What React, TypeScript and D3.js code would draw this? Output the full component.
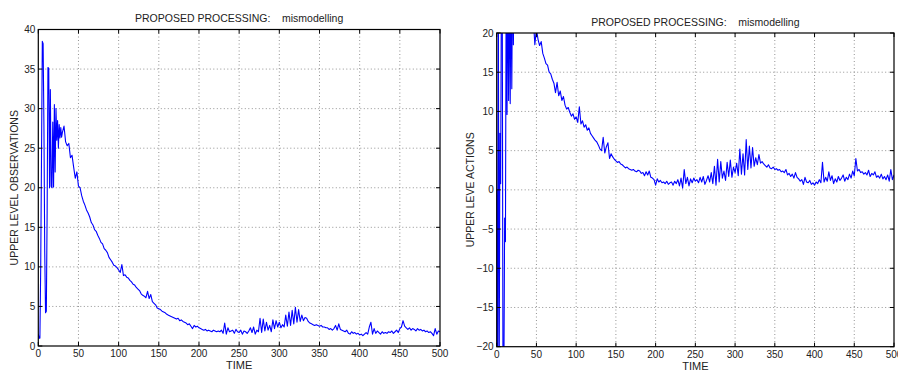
import React from "react";
import * as d3 from "d3";

// observations: t = 0..29 step 1, then t = 30..500 step 2
const obsEarly = [
  1.5, 1.0, 1.0, 10, 24, 38.5, 38.2, 28, 12, 4.2,
  4.4, 17, 35.2, 35.1, 20, 32.4, 20.2, 20, 28.3, 20.1,
  30.5, 22, 30, 26, 28.5, 25, 28, 26.3, 27.6, 26.4,
];
const obsLate = [
  27.0, 27.8, 25.8, 25.3, 25.6, 23.8, 24.1, 22.6, 21.2, 22.0,
  20.2, 20.0, 19.0, 18.3, 17.8, 17.2, 16.8, 16.3, 15.6, 15.3,
  14.7, 14.5, 14.0, 13.6, 13.1, 12.9, 12.3, 12.1, 11.8, 11.2,
  10.9, 10.6, 10.2, 10.1, 9.9, 9.6, 9.3, 10.3, 8.9, 9.0,
  8.7, 8.6, 8.3, 8.1, 7.8, 7.7, 7.4, 7.2, 7.0, 6.6,
  6.4, 6.3, 6.1, 6.9, 6.0, 6.5, 5.6, 5.4, 5.2, 4.8,
  4.7, 4.6, 4.4, 4.3, 4.2, 4.0, 3.9, 3.8, 3.7, 3.6,
  3.5, 3.4, 3.5, 3.2, 3.3, 3.1, 3.0, 2.9, 2.7, 2.8,
  2.5, 2.2, 2.6, 2.4, 2.5, 2.3, 2.2, 2.1, 2.0, 2.1,
  1.9, 2.0, 1.9, 1.8, 2.0, 1.9, 1.8, 1.9, 1.8, 2.0,
  1.6, 2.9, 1.5, 2.3, 1.8, 1.9, 2.0, 1.6, 2.1, 1.8,
  1.7, 2.0, 1.5, 1.9, 1.8, 1.6, 1.9, 2.3, 1.7, 2.4,
  1.5, 2.0, 1.8, 3.5, 1.7, 3.4, 1.9, 3.0, 2.0, 2.6,
  1.8, 3.3, 2.2, 3.2, 2.4, 3.0, 2.3, 2.7, 2.4, 3.9,
  2.5, 4.3, 2.6, 4.5, 2.8, 4.9, 3.0, 4.6, 3.1, 3.9,
  3.2, 3.6, 3.5, 3.1, 2.9, 2.8, 2.7, 2.6, 2.7, 2.6,
  2.5, 2.6, 2.4, 2.4, 2.3, 2.3, 2.1, 2.2, 2.0, 2.2,
  2.6, 2.0, 2.8, 2.1, 2.0, 1.9, 1.8, 2.0, 1.6, 1.5,
  1.8, 1.6, 1.7, 1.5, 1.6, 1.4, 1.5, 1.3, 1.5, 1.7,
  1.5, 2.4, 3.0, 1.5, 2.2, 1.6, 1.9, 1.7, 1.5, 1.8,
  1.6, 1.7, 1.6, 1.8, 1.7, 1.9, 1.6, 1.8, 2.0, 1.7,
  2.2, 2.4, 3.2, 2.5, 2.3, 2.1, 2.3, 2.0, 2.2, 2.1,
  1.9, 2.2, 2.0, 2.1, 1.9, 2.0, 1.8, 1.9, 1.7, 1.8,
  1.6, 1.3, 2.2, 1.5, 1.9, 1.8,
];

// actions: t = 0..29 step 1, then t = 30..500 step 2 (values beyond +-20 are clipped)
const actEarly = [
  0, -25, 30, -30, 7.2, 0.8, 30, 25, -30, -25,
  -3.6, -6.6, 30, 9.6, 30, 11.4, 30, 11.0, 28, 12.9,
  30, 18.5, 30, 24, 26, 25, 26, 25, 24, 25,
];
const actLate = [
  25, 24, 26, 25, 24, 23, 24, 22, 22, 18.5,
  20.5, 19.2, 18.4, 18.9, 17.4, 16.8, 16.1, 15.9, 15.0, 14.8,
  14.1, 13.6, 12.4, 13.7, 12.0, 12.6, 11.4, 11.9, 10.8, 10.3,
  10.5, 9.9, 9.4, 9.7, 9.0, 9.3, 8.6, 10.6, 8.4, 8.8,
  8.0, 8.3, 7.6, 7.9, 7.2, 6.9, 6.6, 6.3, 6.1, 5.7,
  5.2, 5.0, 6.7, 4.7, 5.5, 6.0, 4.0, 4.6, 4.2, 3.9,
  3.7, 3.5, 3.6, 3.3, 3.2, 3.0, 2.8, 2.9, 2.7, 2.6,
  2.5, 2.6, 2.4, 2.3, 2.5, 2.4, 2.1, 2.2, 1.8, 2.3,
  1.9, 2.4, 1.6, 1.5, 1.3, 0.6, 1.4, 1.0, 1.2, 0.9,
  1.0, 0.8, 1.1, 0.7, 0.9, 1.0, 0.6, 1.1, 0.8, 1.3,
  0.5, 1.5, 0.2, 2.6, 0.8, 1.6, 0.5, 1.4, 0.9, 1.5,
  1.1, 1.3, 0.9, 1.6, 1.0, 1.7, 0.7, 1.2, 1.8, 1.0,
  2.2, 0.8, 3.0, 0.6, 3.9, 1.0, 3.6, 1.5, 2.4, 1.2,
  3.5, 1.7, 3.8, 1.6, 2.9, 2.2, 3.4, 1.8, 5.2, 2.0,
  4.6, 1.9, 6.4, 2.6, 5.6, 2.8, 5.4, 3.0, 4.1, 3.2,
  4.5, 3.4, 3.6, 3.3, 3.1, 2.9, 3.2, 2.8, 2.7, 2.9,
  2.6, 2.7, 2.5, 2.6, 2.3, 2.4, 2.2, 2.6, 1.9, 2.1,
  1.7, 2.0, 1.5, 2.2, 1.6, 1.4, 1.1, 1.3, 0.7, 1.6,
  1.0, 0.9, 1.2, 0.7, 0.9, 0.6, 1.0, 0.8, 1.3, 0.9,
  3.5, 1.0, 1.6, 1.1, 2.3, 1.2, 1.8, 0.8, 1.4, 1.0,
  1.7, 1.2, 1.5, 1.9, 1.1, 1.6, 1.3, 2.0, 1.5, 2.4,
  1.8, 4.0, 2.4, 2.6, 2.2, 2.3, 2.0, 2.2, 1.9, 2.5,
  1.7, 2.1, 1.9, 2.3, 1.6, 1.8, 1.5, 2.0, 1.4, 1.7,
  1.3, 1.9, 1.1, 2.6, 1.3, 1.9,
];

const xTicks = [0, 50, 100, 150, 200, 250, 300, 350, 400, 450, 500];
const obsTicks = [0, 5, 10, 15, 20, 25, 30, 35, 40];
const actTicks = [-20, -15, -10, -5, 0, 5, 10, 15, 20];

const titleText = "PROPOSED PROCESSING:    mismodelling";

type Pt = [number, number];
const toSeries = (early: number[], late: number[]): Pt[] => [
  ...early.map((v, i) => [i, v] as Pt),
  ...late.map((v, i) => [30 + 2 * i, v] as Pt),
];

const obsData = toSeries(obsEarly, obsLate);
const actData = toSeries(actEarly, actLate);

const font = "'Liberation Sans', Arial, Helvetica, sans-serif";

type PanelProps = {
  id: string;
  data: Pt[];
  left: number;
  right: number;
  top: number;
  bottom: number;
  yDomain: [number, number];
  yTicks: number[];
  yLabel: string;
  yLabelX: number;
  titleY: number;
};

const Panel = (p: PanelProps) => {
  const x = d3.scaleLinear().domain([0, 500]).range([p.left, p.right]);
  const y = d3.scaleLinear().domain(p.yDomain).range([p.bottom, p.top]);
  const line = d3
    .line<Pt>()
    .x((d) => x(d[0]))
    .y((d) => y(d[1]));
  const tl = 4;
  const cx = (p.left + p.right) / 2;
  const cy = (p.top + p.bottom) / 2;

  return (
    <g>
      <defs>
        <clipPath id={p.id}>
          <rect x={p.left} y={p.top} width={p.right - p.left} height={p.bottom - p.top} />
        </clipPath>
      </defs>
      {/* grid */}
      <g stroke="#777" strokeWidth={0.8} strokeDasharray="1,2.5">
        {xTicks.slice(1, -1).map((t) => (
          <line key={"gx" + t} x1={x(t)} x2={x(t)} y1={p.top} y2={p.bottom} />
        ))}
        {p.yTicks.slice(1, -1).map((t) => (
          <line key={"gy" + t} x1={p.left} x2={p.right} y1={y(t)} y2={y(t)} />
        ))}
      </g>
      <path
        d={line(p.data) || ""}
        fill="none"
        stroke="#0000ff"
        strokeWidth={1.1}
        strokeLinejoin="round"
        clipPath={`url(#${p.id})`}
      />
      {/* box + ticks */}
      <rect
        x={p.left}
        y={p.top}
        width={p.right - p.left}
        height={p.bottom - p.top}
        fill="none"
        stroke="#000"
        strokeWidth={1.2}
      />
      <g stroke="#000" strokeWidth={1}>
        {xTicks.map((t) => (
          <g key={"tx" + t}>
            <line x1={x(t)} x2={x(t)} y1={p.bottom} y2={p.bottom - tl} />
            <line x1={x(t)} x2={x(t)} y1={p.top} y2={p.top + tl} />
          </g>
        ))}
        {p.yTicks.map((t) => (
          <g key={"ty" + t}>
            <line x1={p.left} x2={p.left + tl} y1={y(t)} y2={y(t)} />
            <line x1={p.right} x2={p.right - tl} y1={y(t)} y2={y(t)} />
          </g>
        ))}
      </g>
      <g fontFamily={font} fontSize={10} fill="#222">
        {xTicks.map((t) => (
          <text key={"lx" + t} x={x(t)} y={p.bottom + 11} textAnchor="middle">
            {t}
          </text>
        ))}
        {p.yTicks.map((t) => (
          <text key={"ly" + t} x={p.left - 3} y={y(t) + 3.5} textAnchor="end">
            {t < 0 ? "\u2212" + Math.abs(t) : t}
          </text>
        ))}
        <text x={cx} y={p.titleY} textAnchor="middle" fontSize={10.5} style={{ whiteSpace: "pre" }}>
          {titleText}
        </text>
        <text x={cx} y={p.bottom + 23} textAnchor="middle" fontSize={11}>
          TIME
        </text>
        <text
          transform={`translate(${p.yLabelX},${cy}) rotate(-90)`}
          textAnchor="middle"
          fontSize={10.5}
        >
          {p.yLabel}
        </text>
      </g>
    </g>
  );
};

export default function App() {
  return (
    <svg width={898} height={372} style={{ display: "block", position: "absolute", left: 0, top: 0 }}>
      <rect width={898} height={372} fill="#fff" />
      <Panel
        id="clipL"
        data={obsData}
        left={38.3}
        right={440}
        top={29.5}
        bottom={346}
        yDomain={[0, 40]}
        yTicks={obsTicks}
        yLabel="UPPER LEVEL OBSERVATIONS"
        yLabelX={17.5}
        titleY={22}
      />
      <Panel
        id="clipR"
        data={actData}
        left={496.7}
        right={894}
        top={33}
        bottom={346.7}
        yDomain={[-20, 20]}
        yTicks={actTicks}
        yLabel="UPPER LEVE ACTIONS"
        yLabelX={474}
        titleY={26}
      />
    </svg>
  );
}
